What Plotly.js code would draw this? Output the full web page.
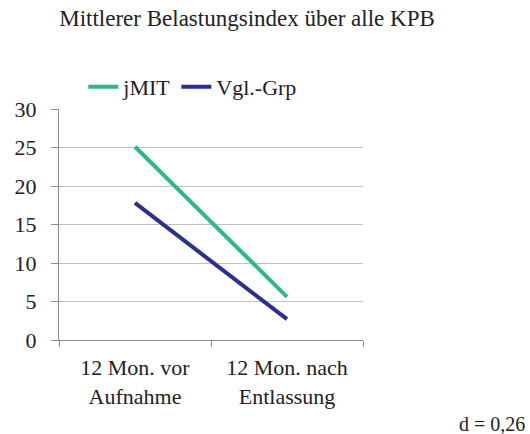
<!DOCTYPE html>
<html>
<head>
<meta charset="utf-8">
<script src="https://cdn.plot.ly/plotly-3.0.1.min.js"></script>
<style>
html,body{margin:0;padding:0;background:#fff;}
#chart{width:530px;height:434px;}
</style>
</head>
<body>
<div id="chart"></div>
<script>
const categories = ["12 Mon. vor<br>Aufnahme", "12 Mon. nach<br>Entlassung"];
const jMIT = [25.1, 5.6];
const vglGrp = [17.8, 2.7];
const seriesNames = ["jMIT", "Vgl.-Grp"];
const titleText = "Mittlerer Belastungsindex über alle KPB";
const noteText = "d = 0,26";

const fontFam = "Liberation Serif, Times New Roman, serif";
const txt = "#222";
const data = [
  {x: categories, y: jMIT, name: seriesNames[0], type: "scatter", mode: "lines",
   line: {color: "#2bb98b", width: 4}},
  {x: categories, y: vglGrp, name: seriesNames[1], type: "scatter", mode: "lines",
   line: {color: "#2b2f8f", width: 4}}
];
const layout = {
  width: 530, height: 434,
  margin: {l: 59, r: 167, t: 109, b: 94},
  paper_bgcolor: "#fff", plot_bgcolor: "#fff",
  font: {family: fontFam, size: 22, color: txt},
  title: {text: titleText, x: 247/530, xanchor: "center", xref: "container",
          y: 1 - 18/434, yanchor: "middle", yref: "container",
          font: {family: fontFam, size: 23, color: txt}},
  showlegend: true,
  legend: {orientation: "h", x: 0.08, xanchor: "left", y: 1.095, yanchor: "middle",
           font: {family: fontFam, size: 22, color: txt}, itemwidth: 30,
           bgcolor: "rgba(0,0,0,0)", tracegroupgap: 0},
  xaxis: {type: "category", range: [-0.5, 1.5], showgrid: false,
          showline: true, linecolor: "#8c8c8c", linewidth: 1,
          ticks: "outside", tickson: "boundaries", ticklen: 6, tickcolor: "#8c8c8c",
          ticklabelstandoff: 8,
          tickfont: {family: fontFam, size: 22, color: txt}, fixedrange: true},
  yaxis: {range: [0, 30], dtick: 5, showgrid: true, gridcolor: "#c0c0c0", gridwidth: 1,
          showline: true, linecolor: "#8c8c8c", linewidth: 1,
          ticks: "outside", ticklen: 7, tickcolor: "#8c8c8c", zeroline: false,
          ticklabelstandoff: 10,
          tickfont: {family: fontFam, size: 22, color: txt}, fixedrange: true},
  annotations: [{text: noteText, xref: "paper", yref: "paper",
                 x: (527 - 59)/304, xanchor: "right",
                 y: (340 - 424)/231, yanchor: "middle", showarrow: false,
                 font: {family: fontFam, size: 20, color: txt}}]
};
Plotly.newPlot("chart", data, layout, {displayModeBar: false, staticPlot: true});
</script>
</body>
</html>
